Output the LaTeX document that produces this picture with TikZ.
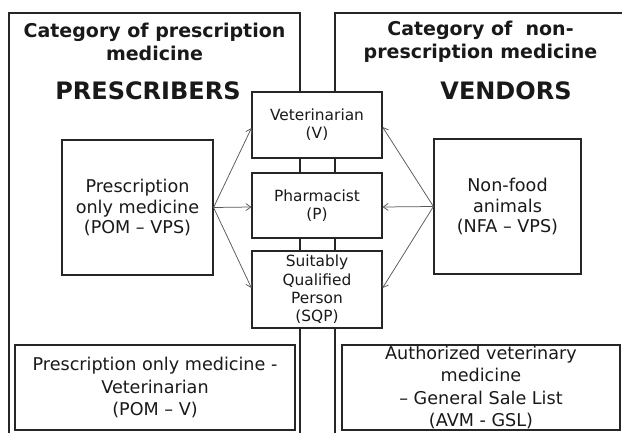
\documentclass[tikz,border=0pt]{standalone}
\usepackage{fontspec}
\setmainfont{DejaVu Sans}
\usetikzlibrary{arrows.meta,calc}
\begin{document}
\begin{tikzpicture}[x=1pt,y=1pt,
  frame/.style={draw=black!85,line width=1.1pt},
  bx/.style={draw=black!85,line width=1.1pt,fill=white,inner sep=0pt,align=center,text=black!90},
  bigtxt/.style={font=\fontsize{17.6}{20.5}\selectfont},
  midtxt/.style={font=\fontsize{15.4}{18.3}\selectfont},
  bottxt/.style={font=\fontsize{17.6}{22.6}\selectfont},
  title/.style={align=center,inner sep=0pt,font=\bfseries\fontsize{19}{23}\selectfont,text=black!90},
  head/.style={inner sep=0pt,font=\bfseries\fontsize{24}{26}\selectfont,text=black!90},
  arr/.style={draw=black!65,line width=0.75pt,-{Straight Barb[length=5pt,width=7pt]}}]
\useasboundingbox (0,0) rectangle (622,432);
\clip (0,0) rectangle (622,432);
\fill[white] (0,0) rectangle (622,432);
% frames
\draw[frame] (9,-5) -- (9,419) -- (300,419) -- (300,-5);
\draw[frame] (335,-5) -- (335,419) -- (630,419) -- (630,-5);
% titles
\node[title] (t1) at (154.5,432-41.5) {Category of prescription\\medicine};
\node[title] (t2) at (480.5,432-41.5) {Category of\ \ non-\\prescription medicine};
\node[head,anchor=base] (h1) at (148,332) {PRESCRIBERS};
\node[head,anchor=base] (h2) at (506,332) {VENDORS};
% middle boxes
\node[bx,midtxt,minimum width=130,minimum height=66] (vet) at (317,432-125) {Veterinarian\\(V)};
\node[bx,midtxt,minimum width=130,minimum height=65] (pha) at (317,432-205.5) {Pharmacist\\(P)};
\node[bx,midtxt,minimum width=130,minimum height=77] (sqp) at (317,432-289.5) {Suitably\\Qualified\\Person\\(SQP)};
% side boxes
\node[bx,bigtxt,minimum width=151,minimum height=135] (pomvps) at (137.5,432-207.5) {Prescription\\only medicine\\(POM -- VPS)};
\node[bx,bigtxt,minimum width=147,minimum height=135] (nfa) at (507.5,432-206.5) {Non-food\\animals\\(NFA -- VPS)};
% bottom boxes
\node[bx,bottxt,minimum width=280,minimum height=85] (pomv) at (155,432-387.5) {Prescription only medicine -\\Veterinarian\\(POM -- V)};
\node[bx,bottxt,minimum width=278,minimum height=85] (avm) at (481,432-387.5) {Authorized veterinary\\medicine\\-- General Sale List\\(AVM - GSL)};
% arrows
\draw[arr] (pomvps.east) -- ([yshift=-3]vet.west);
\draw[arr] (pomvps.east) -- ([yshift=-1.5]pha.west);
\draw[arr] (pomvps.east) -- ([yshift=1.5]sqp.west);
\draw[arr] (nfa.west) -- ([yshift=-2]vet.east);
\draw[arr] (nfa.west) -- ([yshift=-1.5]pha.east);
\draw[arr] (nfa.west) -- ([yshift=1.5]sqp.east);
\end{tikzpicture}
\end{document}
